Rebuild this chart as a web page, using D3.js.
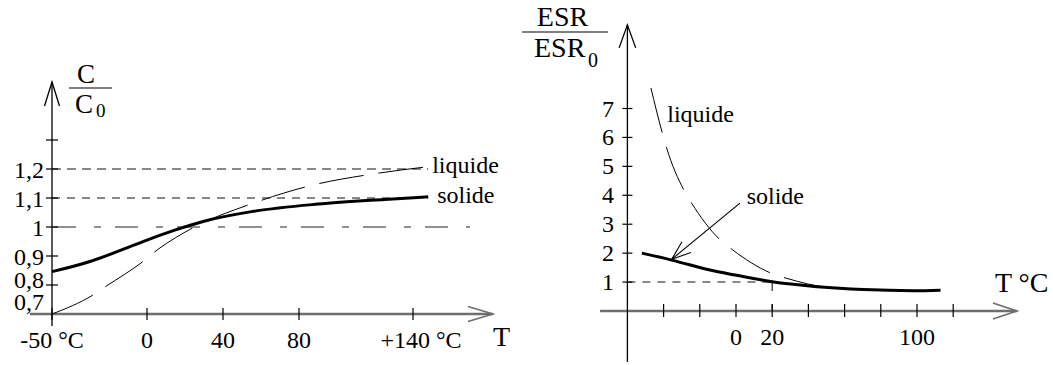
<!DOCTYPE html>
<html><head><meta charset="utf-8">
<script src="https://cdn.jsdelivr.net/npm/d3@7"></script>
<style>
body{margin:0;background:#fff}
svg{display:block}
</style>
</head><body>
<svg id="c" width="1053" height="365" font-family="'Liberation Serif', 'Times New Roman', Times, 'DejaVu Serif', serif"></svg>
<script>
// ---------- Left chart: C/C0 vs T ----------
const capTicksT = [-50, 0, 40, 80, 140];
const capTickLabels = ["-50 °C", "0", "40", "80", "+140 °C"];
const capTicksV = [0.8, 0.9, 1.0, 1.1, 1.2, 1.3];
const capLabelsV = [0.7, 0.8, 0.9, 1.0, 1.1, 1.2];
const capLabelsText = ["0,7", "0,8", "0,9", "1", "1,1", "1,2"];
const capSolideT = [-50, -30, -15, 0, 15, 30, 55, 90, 125, 148];
const capSolideV = [0.846, 0.881, 0.917, 0.955, 0.99, 1.02, 1.053, 1.079, 1.095, 1.104];
const capLiquideT = [-50, -28.3, -21.2, -1.1, 5.4, 15, 25.3, 55.9, 87.5, 119.1, 148];
const capLiquideV = [0.7, 0.766, 0.797, 0.886, 0.921, 0.963, 1.001, 1.082, 1.145, 1.183, 1.208];

// ---------- Right chart: ESR/ESR0 vs T ----------
const esrTicksT = [-40, -20, 0, 20, 40, 60, 80, 100, 120];
const esrTickLabels = ["", "", "0", "20", "", "", "", "100", ""];
const esrTicksV = [1, 2, 3, 4, 5, 6, 7];
const esrSolideT = [-52, -35.5, -12.5, 5.9, 20, 45, 70.3, 98, 113];
const esrSolideV = [2.0, 1.76, 1.39, 1.17, 1.01, 0.84, 0.74, 0.70, 0.72];
const esrLiquideT = [-47, -40.7, -38.3, -28.6, -24.5, -8.8, -1.8, 19.7, 28, 53.8, 75, 98];
const esrLiquideV = [7.71, 6.15, 5.63, 4.16, 3.73, 2.46, 2.11, 1.30, 1.13, 0.79, 0.73, 0.70];

const svg = d3.select("#c");
const zip = (a, b) => a.map((d, i) => [d, b[i]]);

function arrowHead(g, tip, dir, len, half, color, width) {
  const [dx, dy] = dir, px = -dy, py = dx;
  const bx = tip[0] - dx * len, by = tip[1] - dy * len;
  g.append("path")
    .attr("d", `M${bx + px * half},${by + py * half}L${tip[0]},${tip[1]}L${bx - px * half},${by - py * half}`)
    .attr("fill", "none").attr("stroke", color).attr("stroke-width", width);
}

// ================= LEFT =================
{
  const x = d3.scaleLinear().domain([-50, 140]).range([52, 413]);
  const y = d3.scaleLinear().domain([0.7, 1.2]).range([314, 169]);
  const g = svg.append("g");

  g.append("line").attr("x1", x(-50)).attr("x2", x(148)).attr("y1", y(1.2)).attr("y2", y(1.2))
    .attr("stroke", "#111").attr("stroke-width", 1.1).attr("stroke-dasharray", "9,6");
  g.append("line").attr("x1", x(-50)).attr("x2", x(148)).attr("y1", y(1.1)).attr("y2", y(1.1))
    .attr("stroke", "#111").attr("stroke-width", 1.1).attr("stroke-dasharray", "8,7");
  g.append("line").attr("x1", x(-49.5)).attr("x2", x(170)).attr("y1", y(1.0)).attr("y2", y(1.0))
    .attr("stroke", "#222").attr("stroke-width", 1.1).attr("stroke-dasharray", "23,18,7,14");

  const xa0 = x(-61.6), xa1 = x(182.1), ya = y(0.7);
  g.append("line").attr("x1", xa0).attr("x2", xa1).attr("y1", ya).attr("y2", ya)
    .attr("stroke", "#6e6e6e").attr("stroke-width", 2.4);
  arrowHead(g, [xa1, ya], [1, 0], 25, 7.5, "#6e6e6e", 1.6);
  g.selectAll(".xt").data(capTicksT).join("line")
    .attr("x1", d => x(d)).attr("x2", d => x(d)).attr("y1", ya - 6).attr("y2", ya + 6)
    .attr("stroke", "#000").attr("stroke-width", 1.2);
  g.selectAll(".xl").data(capTicksT).join("text")
    .attr("x", (d) => x(d) + (d === 140 ? 8 : 0)).attr("y", 348)
    .attr("text-anchor", "middle").attr("font-size", 24)
    .text((d, i) => capTickLabels[i]);
  g.append("text").attr("x", xa1).attr("y", 346).attr("font-size", 28).text("T");

  const yx = x(-50);
  g.append("line").attr("x1", yx).attr("x2", yx).attr("y1", y(1.5)).attr("y2", y(0.659))
    .attr("stroke", "#000").attr("stroke-width", 1.3);
  arrowHead(g, [yx, y(1.5)], [0, -1], 24, 7.5, "#000", 1.3);
  g.selectAll(".yt").data(capTicksV).join("line")
    .attr("x1", yx - 6).attr("x2", yx + 6).attr("y1", d => y(d)).attr("y2", d => y(d))
    .attr("stroke", "#000").attr("stroke-width", 1.2);
  const shift = v => v < 0.75 ? -13 : (v < 0.85 ? -6 : 0);
  g.selectAll(".yl").data(capLabelsV).join("text")
    .attr("x", 44).attr("y", d => y(d) + 9 + shift(d))
    .attr("text-anchor", "end").attr("font-size", 24)
    .text((d, i) => capLabelsText[i]);

  g.append("text").attr("x", 86).attr("y", 83).attr("text-anchor", "middle").attr("font-size", 27).text("C");
  g.append("line").attr("x1", 69).attr("x2", 112).attr("y1", 88).attr("y2", 88).attr("stroke", "#000").attr("stroke-width", 1.2);
  g.append("text").attr("x", 75).attr("y", 113).attr("font-size", 27).text("C");
  g.append("text").attr("x", 96).attr("y", 117).attr("font-size", 19).text("0");

  const line = d3.line().x(d => x(d[0])).y(d => y(d[1])).curve(d3.curveMonotoneX);
  g.append("path").attr("d", line(zip(capLiquideT, capLiquideV)))
    .attr("fill", "none").attr("stroke", "#000").attr("stroke-width", 1)
    .attr("stroke-dasharray", "45,15");
  g.append("path").attr("d", line(zip(capSolideT, capSolideV)))
    .attr("fill", "none").attr("stroke", "#000").attr("stroke-width", 3);

  g.append("text").attr("x", x(148) + 4).attr("y", y(1.208) + 6).attr("font-size", 24).text("liquide");
  g.append("text").attr("x", x(148) + 9).attr("y", y(1.104) + 6.5).attr("font-size", 24).text("solide");
}

// ================= RIGHT =================
{
  const x = d3.scaleLinear().domain([0, 100]).range([736, 917]);
  const y = d3.scaleLinear().domain([0, 7]).range([311, 108.5]);
  const g = svg.append("g");

  g.append("line").attr("x1", x(-60)).attr("x2", x(20)).attr("y1", y(1)).attr("y2", y(1))
    .attr("stroke", "#111").attr("stroke-width", 1.1).attr("stroke-dasharray", "8,7");
  g.append("line").attr("x1", x(20)).attr("x2", x(20)).attr("y1", y(1)).attr("y2", y(0))
    .attr("stroke", "#111").attr("stroke-width", 1.1).attr("stroke-dasharray", "9,13");

  const xa0 = x(-75.1), xa1 = x(155.2), ya = y(0);
  g.append("line").attr("x1", xa0).attr("x2", xa1).attr("y1", ya).attr("y2", ya)
    .attr("stroke", "#6e6e6e").attr("stroke-width", 2.4);
  arrowHead(g, [xa1, ya], [1, 0], 24, 8, "#6e6e6e", 1.6);
  g.selectAll(".xt").data(esrTicksT).join("line")
    .attr("x1", d => x(d)).attr("x2", d => x(d)).attr("y1", ya - 7).attr("y2", ya + 6)
    .attr("stroke", "#000").attr("stroke-width", 1.2);
  g.selectAll(".xl").data(esrTicksT).join("text")
    .attr("x", d => x(d)).attr("y", 345)
    .attr("text-anchor", "middle").attr("font-size", 24)
    .text((d, i) => esrTickLabels[i]);
  g.append("text").attr("x", 995).attr("y", 292).attr("font-size", 28).text("T °C");

  const yx = x(-60);
  g.append("line").attr("x1", yx).attr("x2", yx).attr("y1", y(9.89)).attr("y2", y(-1.76))
    .attr("stroke", "#000").attr("stroke-width", 1.3);
  arrowHead(g, [yx, y(9.89)], [0, -1], 23, 8.3, "#000", 1.3);
  g.selectAll(".yt").data(esrTicksV).join("line")
    .attr("x1", yx - 5).attr("x2", yx + 5).attr("y1", d => y(d)).attr("y2", d => y(d))
    .attr("stroke", "#000").attr("stroke-width", 1.2);
  g.selectAll(".yl").data(esrTicksV).join("text")
    .attr("x", 614).attr("y", d => y(d) + 8)
    .attr("text-anchor", "end").attr("font-size", 24)
    .text(d => d);

  g.append("text").attr("x", 562.5).attr("y", 26).attr("text-anchor", "middle").attr("font-size", 28).text("ESR");
  g.append("line").attr("x1", 522).attr("x2", 608).attr("y1", 32).attr("y2", 32).attr("stroke", "#000").attr("stroke-width", 1.2);
  g.append("text").attr("x", 534).attr("y", 57).attr("font-size", 28).text("ESR");
  g.append("text").attr("x", 588).attr("y", 67).attr("font-size", 20).text("0");

  const line = d3.line().x(d => x(d[0])).y(d => y(d[1])).curve(d3.curveMonotoneX);
  g.append("path").attr("d", line(zip(esrLiquideT, esrLiquideV)))
    .attr("fill", "none").attr("stroke", "#000").attr("stroke-width", 1)
    .attr("stroke-dasharray", "46,15");
  g.append("path").attr("d", line(zip(esrSolideT, esrSolideV)))
    .attr("fill", "none").attr("stroke", "#000").attr("stroke-width", 3);

  g.append("text").attr("x", x(-38)).attr("y", y(6.55)).attr("font-size", 24).text("liquide");
  g.append("text").attr("x", x(5.9)).attr("y", y(3.7)).attr("font-size", 24).text("solide");

  const s = [x(2.2), y(3.73)], t = [x(-35.5), y(1.79)];
  g.append("line").attr("x1", s[0]).attr("y1", s[1]).attr("x2", t[0]).attr("y2", t[1])
    .attr("stroke", "#000").attr("stroke-width", 1.1);
  const L = Math.hypot(t[0] - s[0], t[1] - s[1]);
  const dir = [(t[0] - s[0]) / L, (t[1] - s[1]) / L];
  const hx = t[0] - dir[0] * 19, hy = t[1] - dir[1] * 19, px = -dir[1], py = dir[0];
  g.append("path")
    .attr("d", `M${hx + px * 7},${hy + py * 7}L${t[0]},${t[1]}L${hx - px * 7},${hy - py * 7}`)
    .attr("fill", "none").attr("stroke", "#000").attr("stroke-width", 1.1);
}
</script>
</body></html>
